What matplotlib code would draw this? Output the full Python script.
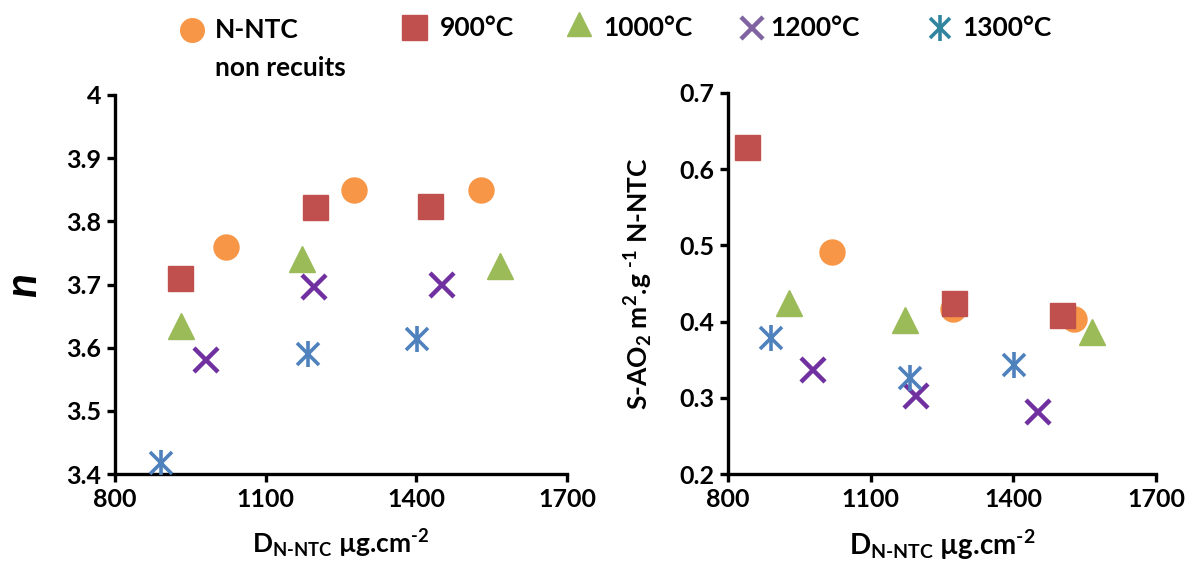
import matplotlib.pyplot as plt
from matplotlib.lines import Line2D

plt.rcParams['font.family'] = ['Lato', 'DejaVu Sans']
plt.rcParams['font.weight'] = 'bold'
plt.rcParams['mathtext.fontset'] = 'custom'
plt.rcParams['mathtext.rm'] = 'Lato:bold'
plt.rcParams['mathtext.it'] = 'Lato:bold:italic'
plt.rcParams['mathtext.bf'] = 'Lato:bold'

# --- data ---
labels = ['N-NTC\nnon recuits', '900°C', '1000°C', '1200°C', '1300°C']

# left panel: n vs D
n_x_raw = [1021, 1275, 1529]
n_y_raw = [3.76, 3.85, 3.85]
n_x_900 = [930, 1198, 1428]
n_y_900 = [3.71, 3.822, 3.824]
n_x_1000 = [931, 1172, 1567]
n_y_1000 = [3.635, 3.74, 3.73]
n_x_1200 = [982, 1197, 1452]
n_y_1200 = [3.58, 3.696, 3.70]
n_x_1300 = [892, 1185, 1401]
n_y_1300 = [3.418, 3.59, 3.614]

# right panel: S-AO2 vs D
s_x_raw = [1018, 1274, 1528]
s_y_raw = [0.491, 0.416, 0.403]
s_x_900 = [841, 1276, 1502]
s_y_900 = [0.629, 0.425, 0.409]
s_x_1000 = [928, 1172, 1566]
s_y_1000 = [0.424, 0.402, 0.387]
s_x_1200 = [978, 1196, 1452]
s_y_1200 = [0.336, 0.302, 0.281]
s_x_1300 = [890, 1182, 1402]
s_y_1300 = [0.378, 0.326, 0.343]

c_orange = '#F79646'
c_red = '#C0504D'
c_green = '#9BBB59'
c_purple = '#7030A0'
c_blue = '#4F81BD'

fig = plt.figure(figsize=(11.94, 5.65), dpi=100)
ax1 = fig.add_axes([115 / 1194, 1 - 474 / 565, 452 / 1194, 379 / 565])
ax2 = fig.add_axes([728 / 1194, 1 - 474 / 565, 428 / 1194, 381 / 565])


def draw(ax, xr, yr, x9, y9, x10, y10, x12, y12, x13, y13):
    ax.plot(xr, yr, 'o', color=c_orange, ms=18, ls='none', zorder=3)
    ax.plot(x9, y9, 's', color=c_red, ms=18, ls='none', zorder=4)
    ax.plot(x10, y10, '^', color=c_green, ms=19, ls='none', zorder=3)
    ax.plot(x12, y12, 'x', color=c_purple, ms=17, mew=3.2, ls='none', zorder=3)
    # asterisk = x + vertical bar
    ax.plot(x13, y13, 'x', color=c_blue, ms=16, mew=2.6, ls='none', zorder=3)
    ax.plot(x13, y13, '|', color=c_blue, ms=19, mew=2.6, ls='none', zorder=3)
    ax.set_xlim(800, 1700)
    ax.set_xticks([800, 1100, 1400, 1700])
    for s in ['top', 'right']:
        ax.spines[s].set_visible(False)
    for s in ['left', 'bottom']:
        ax.spines[s].set_linewidth(2.4)
    ax.tick_params(width=2.4, length=6, labelsize=18, pad=4)
    for lab in ax.get_xticklabels() + ax.get_yticklabels():
        lab.set_fontweight('bold')


draw(ax1, n_x_raw, n_y_raw, n_x_900, n_y_900, n_x_1000, n_y_1000,
     n_x_1200, n_y_1200, n_x_1300, n_y_1300)
ax1.set_ylim(3.4, 4.0)
ax1.set_yticks([3.4, 3.5, 3.6, 3.7, 3.8, 3.9, 4.0])
ax1.set_yticklabels(['3.4', '3.5', '3.6', '3.7', '3.8', '3.9', '4'])
ax1.set_ylabel('n', fontsize=32, fontweight='bold', fontstyle='italic')
ax1.yaxis.set_label_coords(-0.16, 0.5)
ax1.set_xlabel(r'D$_{\text{N-NTC}}$ µg.cm$^{\text{-2}}$', fontsize=19, fontweight='bold')
ax1.xaxis.set_label_coords(0.5, -0.14)

draw(ax2, s_x_raw, s_y_raw, s_x_900, s_y_900, s_x_1000, s_y_1000,
     s_x_1200, s_y_1200, s_x_1300, s_y_1300)
ax2.set_ylim(0.2, 0.7)
ax2.set_yticks([0.2, 0.3, 0.4, 0.5, 0.6, 0.7])
ax2.set_ylabel(r'S-AO$_{\text{2}}$ m$^{\text{2}}$.g $^{\text{-1}}$ N-NTC', fontsize=19, fontweight='bold')
ax2.yaxis.set_label_coords(-0.17, 0.5)
ax2.set_xlabel(r'D$_{\text{N-NTC}}$ µg.cm$^{\text{-2}}$', fontsize=20, fontweight='bold')
ax2.xaxis.set_label_coords(0.5, -0.14)

# legend laid out along the top
leg_colors = ['#F79646', '#C0504D', '#9BBB59', '#8064A2', '#31859C']
leg_mx = [192, 414, 579, 752, 940]
leg_tx = [215, 440, 603, 770, 962]
y_top = 1 - 28 / 565
for i, lab in enumerate(labels):
    mx = leg_mx[i] / 1194
    tx = leg_tx[i] / 1194
    col = leg_colors[i]
    if i == 0:
        fig.add_artist(Line2D([mx], [1 - 30 / 565], marker='o', color=col, ms=17, ls='none'))
        fig.text(tx, 1 - 30 / 565, 'N-NTC', fontsize=19, fontweight='bold', va='center')
        fig.text(tx, 1 - 68 / 565, 'non recuits', fontsize=19, fontweight='bold', va='center')
        continue
    if i == 1:
        fig.add_artist(Line2D([mx], [1 - 27 / 565], marker='s', color=col, ms=18, ls='none'))
    elif i == 2:
        fig.add_artist(Line2D([mx], [1 - 24 / 565], marker='^', color=col, ms=17, ls='none'))
    elif i == 3:
        fig.add_artist(Line2D([mx], [1 - 28 / 565], marker='x', color=col, ms=16, mew=3.2, ls='none'))
    else:
        fig.add_artist(Line2D([mx], [1 - 28 / 565], marker='x', color=col, ms=15, mew=2.6, ls='none'))
        fig.add_artist(Line2D([mx], [1 - 28 / 565], marker='|', color=col, ms=19, mew=2.6, ls='none'))
    fig.text(tx, y_top, lab, fontsize=19, fontweight='bold', va='center')

plt.savefig('out.png', dpi=100)
